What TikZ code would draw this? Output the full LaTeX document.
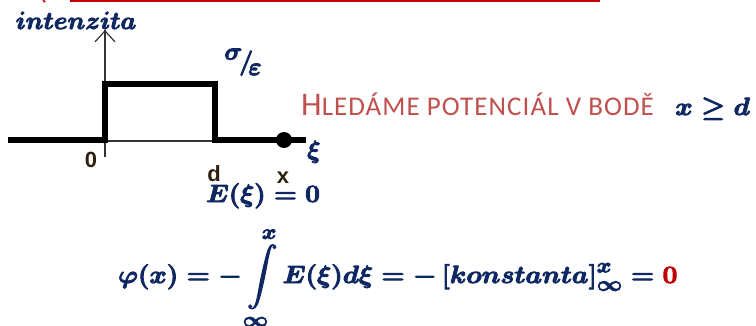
\documentclass[tikz,border=0pt]{standalone}
\usepackage{amsmath,amssymb,bm}
\usepackage{fontspec}
\newfontfamily\tickfont{Liberation Sans}
\newfontfamily\capsfont[LetterSpace=4]{Carlito}
\usetikzlibrary{arrows.meta,positioning}
\definecolor{navy}{RGB}{15,40,98}
\definecolor{capred}{RGB}{192,80,77}
\definecolor{zerored}{RGB}{192,0,0}
\definecolor{tickink}{RGB}{45,32,12}
\newcommand{\bigmath}[1]{\fontsize{#1}{#1}\selectfont\boldmath}
\newcommand{\heavy}[1]{\special{pdf:literal direct 2 Tr 0.9 w}#1\special{pdf:literal direct 0 Tr}}
\newcommand{\wide}[2][1.05]{\scalebox{#1}[1]{#2}}
\tikzset{mathlbl/.style={text=navy, inner sep=0pt, font=\bigmath{29}},
  ticklbl/.style={text=tickink, inner sep=0pt, font=\fontsize{22}{24}\tickfont\bfseries},
  plotline/.style={line width=5.5pt, line join=miter},
  axisline/.style={line width=1.2pt, black!80}}

\begin{document}
\begin{tikzpicture}[x=1pt, y=-1pt]
\useasboundingbox (0,0) rectangle (756,325);
% red rule at the top
\draw[zerored, line width=2pt] (70,1) -- (600,1);
\draw[zerored, line width=1.5pt] (43,0) -- (45,2);
% axes
\coordinate (o) at (105,141);
\coordinate (top) at (105,30);
\coordinate (dd) at (215,141);
\draw[axisline] (105,157) -- (top);
\draw[axisline, -{Straight Barb[length=11pt, width=20pt, line width=1.2pt]}] (o) -- (top);
\draw[axisline] (o) -- (dd);
% intensity step
\draw[plotline] (8,140) -| (105,84) -| (215,140) -- (306,140);
\fill (284,140) circle (8) coordinate (pt);
\node[mathlbl, font=\bigmath{23}, anchor=base] (int) at (76,29) {\heavy{$intenzita$}};
\node[mathlbl, font=\bigmath{28}] (sig) at (243,62) {\heavy{$\raisebox{0.25em}{$\sigma$}\mkern-2mu\raisebox{-0.1em}{$/$}\mkern-3mu\raisebox{-0.3em}{$\varepsilon$}$}};
\node[mathlbl, anchor=base west] (xi) at (307,158) {\heavy{$\xi$}};
\node[ticklbl, anchor=base] (zero) at (91,167) {0};
\node[ticklbl, anchor=base] (dlbl) at (214,181) {d};
\node[ticklbl, anchor=base] (xlbl) at (283,183) {x};
% text on the right
\node[text=capred, inner sep=0pt, anchor=base west] (hled) at (301,115)
  {\capsfont{\fontsize{33}{36}\selectfont H}{\fontsize{27}{30}\selectfont LEDÁME POTENCIÁL V BODĚ}};
\node[mathlbl, anchor=base west] (cond) at (675,115) {\heavy{\wide[1.07]{$x \geq d$}}};
% formulas
\node[mathlbl, font=\bigmath{30}, anchor=base west] (ezero) at (206,202) {\heavy{\wide{$E(\xi) = 0$}}};
\node[mathlbl, anchor=base west] (phi) at (118,283)
  {\heavy{\wide[1.06]{$\displaystyle \varphi(x) = -\int\limits_{\infty}^{x} E(\xi) d\xi = -\left[konstanta\right]_{\infty}^{x} = \textcolor{zerored}{0}$}}};
\end{tikzpicture}
\end{document}
